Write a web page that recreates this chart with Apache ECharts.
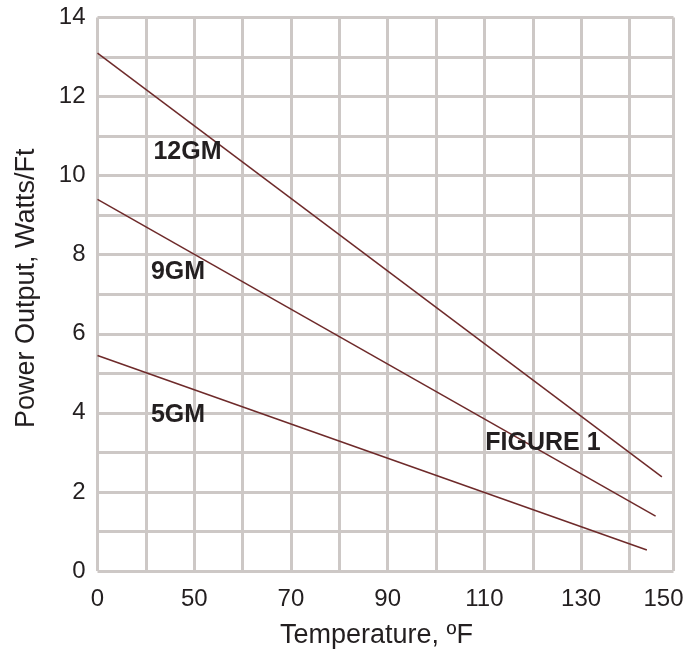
<!DOCTYPE html>
<html>
<head>
<meta charset="utf-8">
<script src="https://cdn.jsdelivr.net/npm/echarts@6/dist/echarts.min.js"></script>
<style>
    html, body { margin: 0; padding: 0; background: #fff; }
    #chart { width: 700px; height: 654px; }
</style>
</head>
<body>
<div id="chart"></div>
<script>
// x axis is not linear: 0..50 F spans two grid cells, after that 10 F per cell
const xTickLabels = ['0', '', '50', '', '70', '', '90', '', '110', '', '130', '', '150'];
const seriesNames = ['12GM', '9GM', '5GM'];
const lineTemps = [[0, 146.7], [0, 145.4], [0, 143.6]];
const lineWatts = [[13.1, 2.38], [9.4, 1.39], [5.45, 0.53]];
// where the curve names sit: [temperature, watts]
const nameSpots = [[46.5, 10.59], [41.6, 7.56], [41.6, 3.94]];
const figureSpot = [122.1, 3.23];

const textColor = '#231f20';
const gridColor = '#cdc8c6';
const lineColor = '#6e2a2a';

function toAxis(t) {
    return t <= 50 ? t / 25 : 2 + (t - 50) / 10;
}

const chart = echarts.init(document.getElementById('chart'));

const series = seriesNames.map(function (name, i) {
    return {
        name: name,
        type: 'line',
        symbol: 'none',
        silent: true,
        lineStyle: { color: lineColor, width: 1.5 },
        data: lineTemps[i].map(function (t, j) {
            return [toAxis(t), lineWatts[i][j]];
        }),
        markPoint: {
            symbolSize: 0,
            silent: true,
            label: {
                show: true,
                color: textColor,
                fontSize: 25,
                fontWeight: 'bold',
                fontFamily: 'Liberation Sans'
            },
            data: [{
                coord: [toAxis(nameSpots[i][0]), nameSpots[i][1]],
                label: { formatter: name }
            }].concat(i === 0 ? [{
                coord: [toAxis(figureSpot[0]), figureSpot[1]],
                label: { formatter: 'FIGURE 1' }
            }] : [])
        }
    };
});

const option = {
    animation: false,
    grid: { left: 97.5, top: 17.5, width: 576, height: 554 },
    xAxis: {
        type: 'value',
        min: 0,
        max: 11.91,
        interval: 1,
        name: 'Temperature, ºF',
        nameLocation: 'middle',
        nameGap: 51,
        nameTextStyle: { color: textColor, fontSize: 27, fontFamily: 'Liberation Sans', padding: [0, 18, 0, 0] },
        axisLine: { show: false },
        axisTick: { show: false },
        splitLine: { show: true, lineStyle: { color: gridColor, width: 3 } },
        axisLabel: {
            color: textColor,
            fontSize: 24,
            fontFamily: 'Liberation Sans',
            margin: 16,
            formatter: function (value, index) {
                const label = xTickLabels[index] || '';
                return index === xTickLabels.length - 1 ? '{last|' + label + '}' : label;
            },
            rich: {
                last: { fontSize: 24, fontFamily: 'Liberation Sans', color: textColor, padding: [0, 20, 10, 0] }
            }
        }
    },
    yAxis: {
        type: 'value',
        min: 0,
        max: 14,
        interval: 1,
        name: 'Power Output, Watts/Ft',
        nameLocation: 'middle',
        nameGap: 57,
        nameTextStyle: { color: textColor, fontSize: 27, fontFamily: 'Liberation Sans', padding: [0, 0, 0, 12] },
        axisLine: { show: false },
        axisTick: { show: false },
        splitLine: { show: true, lineStyle: { color: gridColor, width: 3 } },
        axisLabel: {
            color: textColor,
            fontSize: 24,
            fontFamily: 'Liberation Sans',
            margin: 12,
            formatter: function (value) {
                return value % 2 === 0 ? String(value) : '';
            }
        }
    },
    series: series
};

chart.setOption(option);
</script>
</body>
</html>
